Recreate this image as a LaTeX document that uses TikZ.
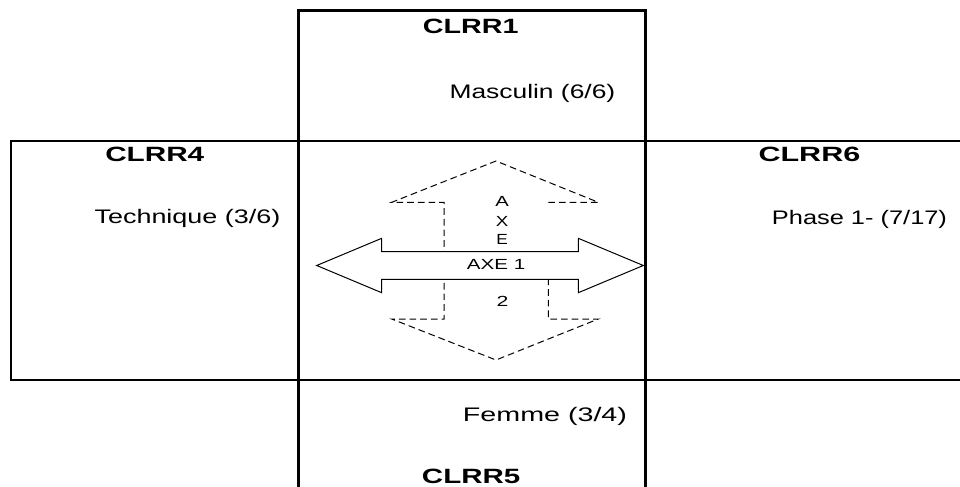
\documentclass[tikz,border=0pt]{standalone}
\usepackage{fontspec}
\setmainfont{Liberation Sans}
\usepackage{graphicx}
\newdimen\px \px=0.75pt
\newcommand\fitw[2]{\resizebox{#1\px}{\height}{#2}}
\begin{document}
\begin{tikzpicture}[x=0.75pt,y=-0.75pt,
  lbl/.style={anchor=base west,inner sep=0pt,font=\fontsize{14.7}{17}\selectfont},
  ttl/.style={anchor=base west,inner sep=0pt,font=\fontsize{15.5}{18}\selectfont\bfseries},
  axe/.style={anchor=base,inner sep=0pt,font=\fontsize{11}{13}\selectfont},
  vbox/.style={draw,line width=2.25pt},
  hbox/.style={draw,line width=1.5pt},
  dasharrow/.style={draw,line width=0.75pt,dash pattern=on 5pt off 3pt},
  solidarrow/.style={draw,line width=0.75pt,fill=white,line join=miter}]
\useasboundingbox (0,0) rectangle (960,486);
\clip (0,0) rectangle (960,486);
% frames
\draw[hbox] (11.3,140.5) rectangle (966,379.5);
\draw[vbox] (298.3,10.8) rectangle (645,496);
% vertical dashed double arrow (AXE 2)
\draw[dasharrow] (548.3,202.3) -- (598.3,202.3) -- (496,161) -- (391.7,202.3) -- (444,202.3)
  -- (444,319) -- (391.7,319) -- (496,360) -- (598.3,319) -- (548.3,319) -- (548.3,265);
% horizontal solid double arrow (AXE 1)
\draw[solidarrow] (316.7,265.5) -- (381.7,238.3) -- (381.7,251.7) -- (578.3,251.7) -- (578.3,238.3)
  -- (643.3,265.5) -- (578.3,292.7) -- (578.3,279.3) -- (381.7,279.3) -- (381.7,292.7) -- cycle;
% titles
\node[ttl] (c1) at (422.7,33.3) {\fitw{95.7}{CLRR1}};
\node[ttl] (c4) at (105,161.7) {\fitw{99}{CLRR4}};
\node[ttl] (c6) at (758.3,161.7) {\fitw{101.7}{CLRR6}};
\node[ttl] (c5) at (421.7,483.3) {\fitw{98.3}{CLRR5}};
% labels
\node[lbl] (masc) at (449.3,98.3) {\fitw{165.7}{Masculin (6/6)}};
\node[lbl] (tech) at (94.3,223.3) {\fitw{185.7}{Technique (3/6)}};
\node[lbl] (phase) at (771.7,224) {\fitw{175}{Phase 1- (7/17)}};
\node[lbl] (femme) at (462.7,421) {\fitw{164}{Femme (3/4)}};
% axis labels
\node[axe] (a) at (502,206.7) {\fitw{13.5}{A}};
\node[axe] (x) at (502,226.7) {\fitw{12.5}{X}};
\node[axe] (e) at (502,244) {\fitw{11.5}{E}};
\node[axe,anchor=base west] (axe1) at (466.7,269.3) {\fitw{58.3}{AXE 1}};
\node[axe] (two) at (502.5,306) {\fitw{11.8}{2}};
\end{tikzpicture}
\end{document}
